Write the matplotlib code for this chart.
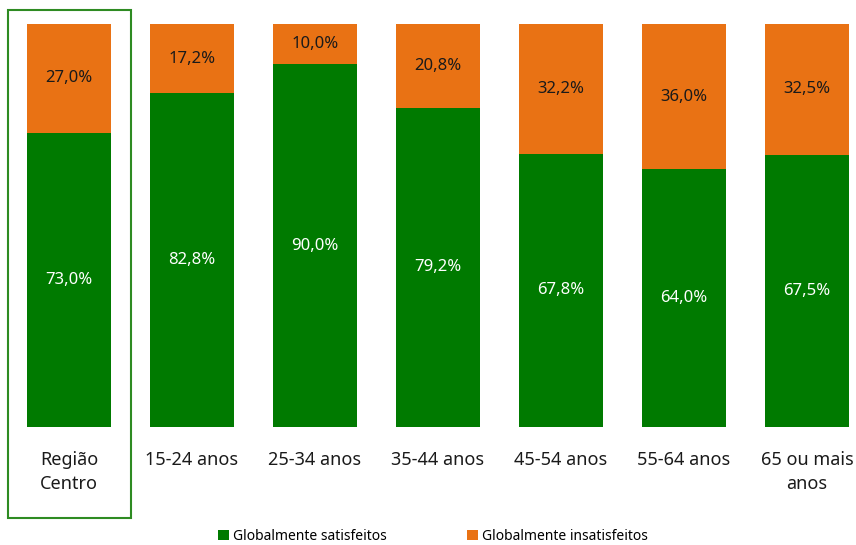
import numpy as np
import matplotlib.pyplot as plt
from matplotlib.patches import Rectangle

plt.rcParams['font.family'] = ['Noto Sans', 'DejaVu Sans']

categorias = ['Região\nCentro', '15-24 anos', '25-34 anos', '35-44 anos',
              '45-54 anos', '55-64 anos', '65 ou mais\nanos']
satisfeitos = [73.0, 82.8, 90.0, 79.2, 67.8, 64.0, 67.5]
insatisfeitos = [27.0, 17.2, 10.0, 20.8, 32.2, 36.0, 32.5]

verde = '#007A00'
laranja = '#E97214'

fig = plt.figure(figsize=(8.56, 5.45), dpi=100)
ax = fig.add_axes([0, (545 - 427) / 545, 1, 403 / 545])

x = np.arange(len(categorias))
w = 84 / 123
b1 = ax.bar(x, satisfeitos, width=w, color=verde, label='Globalmente satisfeitos')
b2 = ax.bar(x, insatisfeitos, width=w, bottom=satisfeitos, color=laranja,
            label='Globalmente insatisfeitos')

for xi, s, i in zip(x, satisfeitos, insatisfeitos):
    ax.text(xi, s / 2, ('%.1f%%' % s).replace('.', ','), ha='center', va='center',
            color='white', fontsize=12)
    ax.text(xi, s + i / 2, ('%.1f%%' % i).replace('.', ','), ha='center', va='center',
            color='#1a1a1a', fontsize=12)

ax.set_xlim(-69 / 123, (856 - 69) / 123)
ax.set_ylim(0, 100)
ax.set_xticks(x)
ax.set_xticklabels(categorias, fontsize=13, color='#1a1a1a', linespacing=1.45)
ax.tick_params(axis='x', length=0, pad=17)
ax.set_yticks([])
for s in ax.spines.values():
    s.set_visible(False)

# caixa verde em torno da Região Centro
fig.patches.append(Rectangle((8 / 856, (545 - 518) / 545), 123 / 856, 508 / 545,
                             transform=fig.transFigure, fill=False,
                             edgecolor='#2E8B22', linewidth=1.5))

fig.legend(handles=[b1, b2], loc='center', bbox_to_anchor=(433 / 856, 9 / 545),
           ncol=2, frameon=False, fontsize=10, handlelength=0.75, handleheight=0.75,
           handletextpad=0.3, columnspacing=5.8)

plt.savefig('out.png', dpi=100)
